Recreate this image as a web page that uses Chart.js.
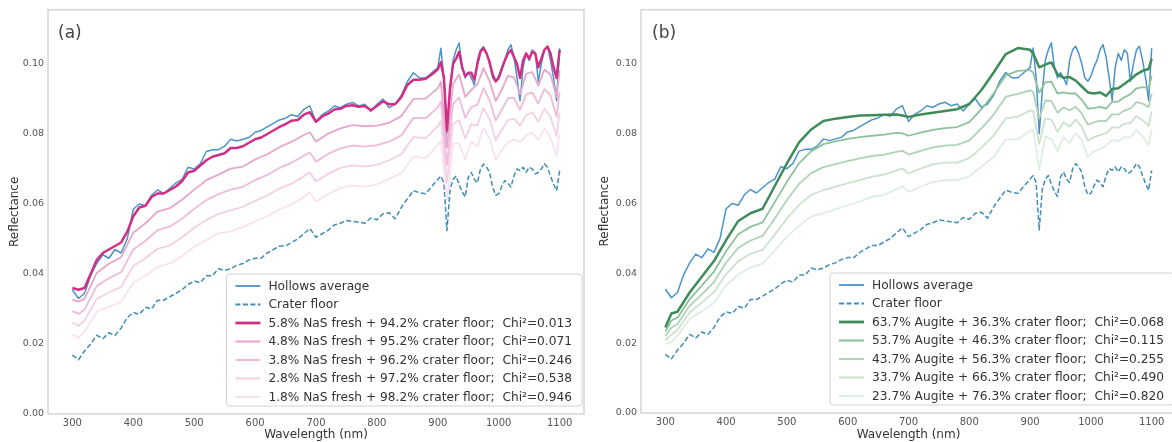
<!DOCTYPE html>
<html><head><meta charset="utf-8">
<script src="https://cdn.jsdelivr.net/npm/chart.js@4.4.1/dist/chart.umd.min.js"></script>
<style>
html,body{margin:0;padding:0;background:#fff;}
body{width:1172px;height:442px;overflow:hidden;position:relative;}
canvas{position:absolute;top:0;}
#ca{left:0;} #cb{left:590px;}
</style></head><body>
<canvas id="ca" width="590" height="442"></canvas>
<canvas id="cb" width="600" height="442"></canvas>
<script>
// ---------- DATA ----------
const xTicks = [300, 400, 500, 600, 700, 800, 900, 1000, 1100];
const yTicks = [0.00, 0.02, 0.04, 0.06, 0.08, 0.10];

// wavelength grid for measured spectra
const wlFine = [300,310,320,330,340,350,360,370,380,390,400,410,420,430,440,450,460,470,480,490,
500,510,520,530,540,550,560,570,580,590,600,610,620,630,640,650,660,670,680,690,
700,710,720,730,740,750,760,770,780,790,800,810,820,830,840,850,860,870,880,890,900,
905,910,915,920,925,930,935,940,945,950,955,960,965,970,975,980,985,990,995,1000,
1005,1010,1015,1020,1025,1030,1035,1040,1045,1050,1055,1060,1065,1070,1075,1080,1085,1090,1095,1100];

const hollowsAverage = [.0355,.0330,.0345,.0395,.0430,.0455,.0445,.0470,.0460,.0500,
.0585,.0600,.0595,.0625,.0640,.0630,.0645,.0660,.0670,.0705,
.0700,.0715,.0750,.0755,.0755,.0765,.0785,.0780,.0785,.0790,
.0805,.0810,.0820,.0830,.0840,.0845,.0855,.0850,.0870,.0880,
.0835,.0855,.0865,.0880,.0875,.0885,.0890,.0880,.0885,.0865,
.0885,.0900,.0875,.0885,.0910,.0950,.0975,.0960,.0960,.0975,.0990,
.1045,.0960,.0800,.0920,.1010,.1040,.1060,.0990,.0960,.0975,
.0960,.0940,.1010,.1040,.1050,.1030,.1000,.0960,.0950,.0965,
.0990,.1010,.1040,.1055,.1020,.0960,.0895,.0990,.1030,.1010,
.1040,.1030,.0950,.1000,.1040,.1050,.1010,.0960,.0895,.1045];

const craterFloor = [.0168,.0155,.0180,.0200,.0225,.0215,.0232,.0225,.0245,.0275,
.0290,.0285,.0305,.0300,.0325,.0325,.0335,.0345,.0355,.0370,
.0380,.0375,.0395,.0395,.0415,.0410,.0415,.0425,.0430,.0440,
.0445,.0445,.0460,.0470,.0480,.0480,.0490,.0500,.0515,.0530,
.0505,.0515,.0525,.0540,.0545,.0553,.0550,.0548,.0545,.0560,
.0555,.0572,.0575,.0558,.0590,.0615,.0638,.0632,.0629,.0650,.0670,
.0680,.0660,.0524,.0640,.0670,.0680,.0655,.0635,.0620,.0676,
.0690,.0670,.0660,.0700,.0714,.0705,.0690,.0648,.0625,.0629,
.0650,.0667,.0660,.0648,.0680,.0700,.0695,.0705,.0690,.0705,
.0700,.0686,.0690,.0700,.0715,.0705,.0680,.0657,.0638,.0695];

const nas58 = [.0360,.0355,.0360,.0400,.0440,.0460,.0470,.0480,.0490,.0520,
.0565,.0590,.0595,.0620,.0630,.0630,.0640,.0650,.0665,.0690,
.0695,.0710,.0725,.0735,.0740,.0745,.0760,.0760,.0765,.0775,
.0785,.0790,.0800,.0810,.0820,.0828,.0838,.0840,.0855,.0862,
.0835,.0850,.0858,.0870,.0872,.0880,.0882,.0878,.0880,.0868,
.0880,.0893,.0885,.0885,.0905,.0940,.0955,.0955,.0958,.0970,.0985,
.1005,.0960,.0810,.0930,.1000,.1015,.1035,.0990,.0965,.0975,
.0975,.0955,.1000,.1035,.1045,.1030,.1005,.0970,.0950,.0960,
.0985,.1010,.1030,.1040,.1020,.1000,.0960,.1010,.1030,.1015,
.1035,.1030,.0990,.1015,.1040,.1050,.1030,.0990,.0960,.1040];

// wavelength grid for the model mixtures
const wlFit = [300,310,320,340,360,380,400,420,440,460,480,500,520,540,560,580,600,620,640,660,680,690,
700,720,740,760,780,800,820,840,860,880,900,905,915,925,935,945,955,965,975,985,995,
1005,1015,1025,1035,1045,1055,1065,1075,1085,1095,1100];

const nas48 = [.0327,.0321,.0329,.0403,.0429,.0448,.0518,.0545,.0578,.0588,.0612,.0641,.0668,.0684,.0701,.0707,.0727,.0742,.0762,.0778,.0797,.0805,
.0778,.0801,.0816,.0825,.0822,.0824,.0832,.0851,.0900,.0901,.0931,.0949,.0761,.0943,.0970,.0906,.0926,.0942,.0988,.0951,.0894,
.0927,.0966,.0962,.0914,.0972,.0977,.0938,.0984,.0970,.0905,.0981];
const nas38 = [.0294,.0286,.0298,.0366,.0388,.0405,.0470,.0495,.0525,.0535,.0558,.0586,.0611,.0628,.0641,.0649,.0668,.0683,.0703,.0718,.0738,.0747,
.0721,.0743,.0759,.0767,.0764,.0768,.0778,.0796,.0846,.0845,.0876,.0893,.0711,.0886,.0904,.0846,.0877,.0883,.0931,.0896,.0838,
.0869,.0902,.0903,.0869,.0913,.0919,.0887,.0928,.0910,.0849,.0921];
const nas28 = [.0261,.0252,.0267,.0329,.0347,.0363,.0423,.0445,.0472,.0482,.0505,.0532,.0554,.0572,.0582,.0592,.0609,.0624,.0644,.0658,.0679,.0690,
.0664,.0686,.0703,.0710,.0707,.0712,.0725,.0742,.0791,.0788,.0822,.0837,.0662,.0829,.0839,.0787,.0828,.0824,.0874,.0842,.0782,
.0812,.0839,.0844,.0823,.0854,.0862,.0835,.0872,.0849,.0794,.0862];
const nas18 = [.0228,.0217,.0236,.0292,.0306,.0321,.0375,.0395,.0420,.0430,.0451,.0478,.0497,.0516,.0522,.0534,.0550,.0565,.0585,.0598,.0620,.0633,
.0607,.0628,.0646,.0653,.0649,.0656,.0671,.0688,.0736,.0731,.0768,.0781,.0613,.0772,.0773,.0727,.0778,.0765,.0817,.0788,.0726,
.0754,.0775,.0785,.0777,.0795,.0804,.0783,.0816,.0789,.0738,.0802];

const aug637 = [.0245,.0285,.0290,.0345,.0390,.0435,.0495,.0550,.0572,.0585,.0650,.0715,.0775,.0812,.0836,.0843,.0848,.0852,.0853,.0854,.0855,.0852,
.0848,.0855,.0860,.0865,.0870,.0885,.0925,.0975,.1028,.1045,.1040,.1030,.0990,.0998,.1004,.0970,.0960,.0962,.0952,.0935,.0918,
.0915,.0918,.0908,.0928,.0930,.0942,.0955,.0970,.0980,.0985,.1015];
const aug537 = [.0233,.0265,.0273,.0326,.0365,.0405,.0463,.0512,.0533,.0546,.0604,.0662,.0715,.0750,.0770,.0778,.0785,.0790,.0794,.0797,.0802,.0801,
.0794,.0803,.0811,.0816,.0819,.0833,.0870,.0915,.0967,.0980,.0982,.0975,.0917,.0947,.0949,.0915,.0918,.0915,.0915,.0897,.0872,
.0873,.0877,.0872,.0891,.0892,.0904,.0913,.0930,.0933,.0931,.0965];
const aug437 = [.0221,.0244,.0255,.0307,.0340,.0375,.0431,.0473,.0494,.0507,.0557,.0610,.0656,.0687,.0704,.0713,.0721,.0729,.0736,.0740,.0748,.0751,
.0740,.0751,.0761,.0766,.0768,.0781,.0815,.0854,.0906,.0914,.0924,.0920,.0844,.0895,.0894,.0860,.0875,.0867,.0877,.0858,.0826,
.0832,.0837,.0836,.0855,.0855,.0866,.0872,.0890,.0886,.0876,.0915];
const aug337 = [.0209,.0224,.0238,.0288,.0316,.0346,.0398,.0435,.0456,.0467,.0511,.0557,.0596,.0625,.0638,.0648,.0658,.0667,.0677,.0683,.0695,.0700,
.0686,.0700,.0712,.0717,.0717,.0730,.0760,.0794,.0844,.0849,.0866,.0865,.0771,.0844,.0840,.0805,.0833,.0820,.0840,.0820,.0780,
.0790,.0796,.0801,.0818,.0817,.0828,.0830,.0850,.0839,.0822,.0864];
const aug237 = [.0197,.0203,.0221,.0270,.0291,.0316,.0366,.0396,.0417,.0428,.0465,.0505,.0536,.0563,.0572,.0584,.0595,.0606,.0619,.0625,.0641,.0650,
.0633,.0648,.0662,.0667,.0666,.0678,.0705,.0733,.0783,.0784,.0808,.0810,.0697,.0792,.0785,.0750,.0790,.0772,.0803,.0781,.0734,
.0749,.0756,.0765,.0782,.0779,.0790,.0789,.0810,.0792,.0767,.0814];

const labelsA = ['Hollows average', 'Crater floor',
  '5.8% NaS fresh + 94.2% crater floor;  Chi\u00b2=0.013',
  '4.8% NaS fresh + 95.2% crater floor;  Chi\u00b2=0.071',
  '3.8% NaS fresh + 96.2% crater floor;  Chi\u00b2=0.246',
  '2.8% NaS fresh + 97.2% crater floor;  Chi\u00b2=0.538',
  '1.8% NaS fresh + 98.2% crater floor;  Chi\u00b2=0.946'];
const labelsB = ['Hollows average', 'Crater floor',
  '63.7% Augite + 36.3% crater floor;  Chi\u00b2=0.068',
  '53.7% Augite + 46.3% crater floor;  Chi\u00b2=0.115',
  '43.7% Augite + 56.3% crater floor;  Chi\u00b2=0.255',
  '33.7% Augite + 66.3% crater floor;  Chi\u00b2=0.490',
  '23.7% Augite + 76.3% crater floor;  Chi\u00b2=0.820'];

// ---------- STYLE ----------
const FAM = "'DejaVu Sans', 'Liberation Sans', sans-serif";
const C_HOLLOWS = '#4b94c9';
const C_CRATER = '#3f8db8';
const PINKS = ['#d12f85', '#e7a6cb', '#eebcd9', '#f3d0e4', '#f8e2ee'];
const GREENS = ['#3e8c5a', '#8dc29d', '#aed3b6', '#cbe2cf', '#e0ede2'];

function pts(xs, ys) { return xs.map((x, i) => ({ x: x, y: ys[i] })); }
function ds(label, xs, ys, color, width, order, dash) {
  return { label: label, data: pts(xs, ys), borderColor: color, backgroundColor: color,
    borderWidth: width, borderDash: dash || [], order: order, pointRadius: 0,
    fill: false, tension: 0, borderJoinStyle: 'round', borderCapStyle: 'butt' };
}

const decor = {
  id: 'decor',
  afterDraw(chart, args, o) {
    const ctx = chart.ctx, a = chart.chartArea;
    ctx.save();
    // frame
    ctx.strokeStyle = '#d6d6d6'; ctx.lineWidth = 1.5;
    ctx.strokeRect(a.left, a.top, a.right - a.left, a.bottom - a.top);
    // panel letter
    ctx.fillStyle = '#444'; ctx.font = '17px ' + FAM;
    ctx.textBaseline = 'middle'; ctx.textAlign = 'left';
    ctx.fillText(o.letter, a.left + o.letterDx, a.top + 24);
    // legend
    ctx.font = '12.2px ' + FAM;
    const dsets = chart.data.datasets;
    let w = 0;
    dsets.forEach(d => { w = Math.max(w, ctx.measureText(d.label).width); });
    const rowH = 18.5, boxW = w + 52, boxH = 12 + (dsets.length - 1) * rowH + 9;
    const right = a.right - 2, bottom = a.bottom - 8;
    const left = right - boxW, top = bottom - boxH;
    ctx.beginPath();
    if (ctx.roundRect) ctx.roundRect(left, top, boxW, boxH, 3); else ctx.rect(left, top, boxW, boxH);
    ctx.fillStyle = 'rgba(255,255,255,0.85)'; ctx.fill();
    ctx.strokeStyle = '#d2d2d2'; ctx.lineWidth = 1; ctx.stroke();
    dsets.forEach((d, i) => {
      const y = top + 12 + i * rowH;
      ctx.beginPath();
      ctx.setLineDash(d.borderDash || []);
      ctx.strokeStyle = d.borderColor;
      ctx.lineWidth = d.borderWidth + 0.3;
      ctx.moveTo(left + 9, y); ctx.lineTo(left + 34, y);
      ctx.stroke();
      ctx.setLineDash([]);
      ctx.fillStyle = '#333';
      ctx.textBaseline = 'middle';
      ctx.fillText(d.label, left + 42, y + 0.5);
    });
    ctx.restore();
  }
};

function makeOptions(letter, letterDx, yWidth, xHeight, padRight) {
  return {
    responsive: false, devicePixelRatio: 1, animation: false,
    layout: { padding: { top: 8, right: padRight, bottom: 0, left: 0 } },
    plugins: { legend: { display: false }, tooltip: { enabled: false },
      decor: { letter: letter, letterDx: letterDx } },
    scales: {
      x: { type: 'linear', min: 260, max: 1140,
        afterBuildTicks: s => { s.ticks = xTicks.map(v => ({ value: v })); },
        afterFit: s => { s.height = xHeight; },
        grid: { display: false, drawTicks: false }, border: { display: false },
        ticks: { autoSkip: false, maxRotation: 0, padding: 3, color: '#555',
          font: { family: FAM, size: 10 }, callback: v => String(v) },
        title: { display: true, text: 'Wavelength (nm)', color: '#333',
          font: { family: FAM, size: 12 }, padding: { top: 0, bottom: 0 } } },
      y: { type: 'linear', min: 0, max: 0.1155,
        afterBuildTicks: s => { s.ticks = yTicks.map(v => ({ value: v })); },
        afterFit: s => { s.width = yWidth; },
        grid: { display: false, drawTicks: false }, border: { display: false },
        ticks: { padding: 4, color: '#555', font: { family: FAM, size: 9.5 },
          callback: v => Number(v).toFixed(2) },
        title: { display: true, text: 'Reflectance', color: '#333',
          font: { family: FAM, size: 12 }, padding: { top: 8, bottom: 0 } } }
    }
  };
}

const dashCrater = [5, 2.5];

new Chart(document.getElementById('ca'), {
  type: 'line',
  data: { datasets: [
    ds(labelsA[0], wlFine, hollowsAverage, C_HOLLOWS, 1.5, 6),
    ds(labelsA[1], wlFine, craterFloor, C_CRATER, 1.5, 7, dashCrater),
    ds(labelsA[2], wlFine, nas58, PINKS[0], 2.5, 0),
    ds(labelsA[3], wlFit, nas48, PINKS[1], 1.8, 1),
    ds(labelsA[4], wlFit, nas38, PINKS[2], 1.8, 2),
    ds(labelsA[5], wlFit, nas28, PINKS[3], 1.8, 3),
    ds(labelsA[6], wlFit, nas18, PINKS[4], 1.8, 4)
  ] },
  options: makeOptions('(a)', 10, 48, 28, 6),
  plugins: [decor]
});

new Chart(document.getElementById('cb'), {
  type: 'line',
  data: { datasets: [
    ds(labelsB[0], wlFine, hollowsAverage, C_HOLLOWS, 1.5, 6),
    ds(labelsB[1], wlFine, craterFloor, C_CRATER, 1.5, 7, dashCrater),
    ds(labelsB[2], wlFit, aug637, GREENS[0], 2.5, 0),
    ds(labelsB[3], wlFit, aug537, GREENS[1], 1.8, 1),
    ds(labelsB[4], wlFit, aug437, GREENS[2], 1.8, 2),
    ds(labelsB[5], wlFit, aug337, GREENS[3], 1.8, 3),
    ds(labelsB[6], wlFit, aug237, GREENS[4], 1.8, 4)
  ] },
  options: makeOptions('(b)', 11, 51, 29, 14),
  plugins: [decor]
});
</script>
</body></html>
